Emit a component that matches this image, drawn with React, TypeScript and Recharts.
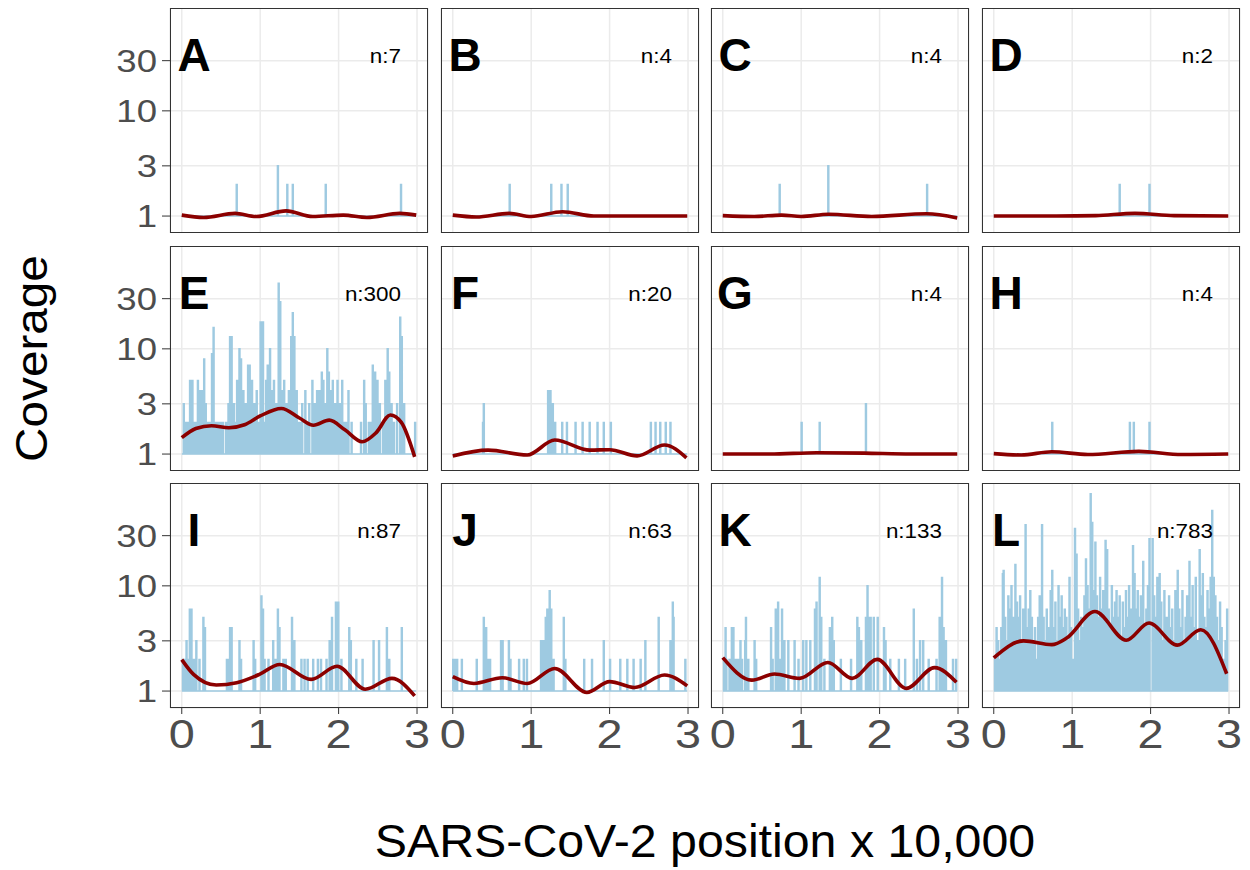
import { LineChart, Line, XAxis, YAxis, CartesianGrid } from 'recharts'

// facet labels and read counts
const panelLetters = ['A', 'B', 'C', 'D', 'E', 'F', 'G', 'H', 'I', 'J', 'K', 'L']
const readCounts = [7, 4, 4, 2, 300, 20, 4, 4, 87, 63, 133, 783]
const xTicks = [0, 1, 2, 3]
const yTicks = [1, 3, 10, 30]

// coverage spikes: [position x 10,000, coverage]
const spikesA = [[0.695, 2], [1.22, 3], [1.34, 2], [1.41, 2], [1.83, 2], [2.79, 2]]
const spikesB = [[0.72, 2], [1.25, 2], [1.38, 2], [1.46, 2]]
const spikesC = [[0.72, 2], [1.34, 3], [2.6, 2]]
const spikesD = [[1.6, 2], [1.98, 2]]
const spikesE = [
  [0.02, 3], [0.04, 2], [0.07, 2], [0.1, 5], [0.13, 5], [0.15, 2], [0.18, 2], [0.2, 5], [0.22, 4], [0.25, 4],
  [0.28, 8], [0.3, 3], [0.32, 2], [0.34, 2], [0.36, 2], [0.38, 9], [0.4, 16], [0.42, 2], [0.44, 2], [0.47, 2],
  [0.49, 2], [0.52, 2], [0.56, 2], [0.59, 3], [0.61, 13], [0.63, 13], [0.66, 3], [0.68, 2], [0.7, 5], [0.73, 10],
  [0.75, 8], [0.78, 4], [0.81, 3], [0.84, 7], [0.86, 7], [0.89, 5], [0.92, 3], [0.95, 4], [0.98, 2], [1.0, 18],
  [1.03, 18], [1.05, 2], [1.07, 5], [1.09, 7], [1.12, 10], [1.14, 4], [1.17, 5], [1.2, 3], [1.23, 42], [1.25, 28],
  [1.28, 4], [1.3, 5], [1.33, 3], [1.36, 4], [1.39, 13], [1.41, 22], [1.43, 13], [1.46, 4], [1.48, 2], [1.5, 2],
  [1.53, 3], [1.57, 4], [1.6, 2], [1.62, 3], [1.66, 5], [1.69, 3], [1.72, 4], [1.75, 4], [1.78, 6], [1.8, 5],
  [1.83, 3], [1.85, 10], [1.87, 6], [1.9, 4], [1.92, 5], [1.95, 3], [1.98, 5], [2.01, 3], [2.04, 5], [2.07, 2],
  [2.1, 2], [2.12, 4], [2.16, 2], [2.28, 2], [2.32, 5], [2.34, 3], [2.38, 2], [2.41, 2], [2.43, 7], [2.46, 6],
  [2.49, 5], [2.52, 3], [2.56, 2], [2.59, 5], [2.62, 10], [2.64, 6], [2.67, 3], [2.7, 2], [2.74, 3], [2.78, 20],
  [2.8, 13], [2.83, 3], [2.97, 2],
]
const spikesF = [
  [0.38, 2], [0.39, 3], [1.21, 4], [1.24, 4], [1.27, 3], [1.3, 2], [1.39, 2], [1.45, 2], [1.56, 2], [1.65, 2],
  [1.74, 2], [1.84, 2], [1.92, 2], [2.01, 2], [2.52, 2], [2.58, 2], [2.64, 2], [2.71, 2], [2.77, 2],
]
const spikesG = [[1.0, 2], [1.23, 2], [1.82, 3]]
const spikesH = [[0.74, 2], [1.73, 2], [1.78, 2], [1.98, 2]]
const spikesI = [
  [0.01, 2], [0.03, 2], [0.055, 3], [0.076, 2], [0.097, 6], [0.118, 6], [0.148, 2], [0.165, 2], [0.18, 3], [0.22, 2],
  [0.27, 5], [0.29, 4], [0.57, 2], [0.59, 2], [0.61, 4], [0.63, 4], [0.73, 3], [0.75, 2], [0.91, 3], [0.93, 2],
  [1.01, 8], [1.03, 6], [1.05, 2], [1.1, 2], [1.16, 3], [1.19, 2], [1.22, 6], [1.24, 4], [1.29, 2], [1.32, 2],
  [1.4, 5], [1.43, 3], [1.52, 2], [1.56, 2], [1.6, 2], [1.67, 2], [1.73, 2], [1.77, 2], [1.84, 2], [1.88, 3],
  [1.91, 5], [1.96, 7], [1.99, 7], [2.03, 2], [2.13, 4], [2.15, 3], [2.22, 2], [2.3, 2], [2.44, 3], [2.51, 3],
  [2.61, 4], [2.64, 2], [2.8, 4],
]
const spikesJ = [
  [0.0, 2], [0.02, 2], [0.05, 2], [0.11, 2], [0.3, 2], [0.39, 5], [0.42, 4], [0.45, 2], [0.47, 2], [0.61, 3],
  [0.63, 3], [0.71, 3], [0.73, 2], [0.84, 2], [0.9, 2], [0.94, 2], [1.12, 3], [1.15, 3], [1.18, 5], [1.2, 6],
  [1.23, 9], [1.25, 6], [1.28, 2], [1.41, 5], [1.43, 2], [1.67, 2], [1.77, 2], [1.92, 3], [2.0, 2], [2.13, 2],
  [2.22, 2], [2.3, 2], [2.39, 2], [2.45, 3], [2.62, 5], [2.77, 3], [2.8, 7], [2.81, 5], [2.96, 2],
]
const spikesK = [
  [0.01, 2], [0.03, 4], [0.04, 2], [0.08, 2], [0.11, 4], [0.13, 4], [0.15, 2], [0.18, 2], [0.2, 2], [0.22, 3],
  [0.24, 2], [0.28, 3], [0.29, 5], [0.32, 2], [0.4, 3], [0.42, 2], [0.61, 4], [0.63, 2], [0.67, 6], [0.7, 7],
  [0.72, 2], [0.75, 6], [0.78, 3], [0.83, 3], [0.91, 3], [0.96, 2], [1.02, 3], [1.06, 3], [1.11, 3], [1.17, 6],
  [1.19, 7], [1.23, 12], [1.25, 5], [1.29, 2], [1.36, 4], [1.39, 5], [1.41, 3], [1.5, 2], [1.63, 2], [1.71, 5],
  [1.73, 4], [1.76, 3], [1.82, 5], [1.84, 10], [1.86, 5], [1.88, 5], [1.92, 5], [1.97, 5], [2.05, 4], [2.07, 3],
  [2.13, 2], [2.24, 2], [2.32, 2], [2.43, 6], [2.47, 2], [2.51, 3], [2.55, 3], [2.62, 2], [2.72, 2], [2.76, 5],
  [2.79, 12], [2.81, 4], [2.84, 3], [2.93, 2], [2.97, 2],
]
const spikesL = [
  [0.01, 2], [0.03, 4], [0.05, 3], [0.07, 2], [0.09, 4], [0.11, 13], [0.12, 14], [0.14, 5], [0.16, 3], [0.18, 8],
  [0.2, 6], [0.22, 10], [0.24, 5], [0.26, 3], [0.27, 16], [0.29, 7], [0.31, 5], [0.33, 8], [0.35, 3], [0.37, 6],
  [0.4, 38], [0.42, 4], [0.44, 6], [0.46, 9], [0.48, 5], [0.5, 3], [0.52, 4], [0.54, 2], [0.56, 5], [0.58, 8],
  [0.61, 38], [0.63, 5], [0.65, 3], [0.67, 6], [0.69, 4], [0.72, 9], [0.74, 14], [0.76, 4], [0.78, 7], [0.8, 3],
  [0.82, 10], [0.84, 5], [0.86, 8], [0.88, 4], [0.9, 6], [0.92, 5], [0.94, 3], [0.96, 12], [0.98, 4], [1.0, 2],
  [1.03, 35], [1.05, 20], [1.07, 6], [1.09, 3], [1.11, 5], [1.13, 4], [1.15, 8], [1.17, 18], [1.19, 10], [1.21, 6],
  [1.23, 75], [1.25, 40], [1.27, 9], [1.29, 26], [1.31, 8], [1.33, 5], [1.35, 12], [1.37, 6], [1.39, 9], [1.42, 27],
  [1.44, 22], [1.46, 6], [1.48, 4], [1.5, 10], [1.52, 5], [1.54, 7], [1.56, 9], [1.58, 5], [1.6, 8], [1.62, 3],
  [1.64, 7], [1.66, 4], [1.68, 9], [1.7, 5], [1.72, 10], [1.74, 6], [1.77, 24], [1.79, 13], [1.81, 6], [1.83, 9],
  [1.85, 5], [1.87, 8], [1.9, 17], [1.92, 4], [1.94, 6], [1.96, 10], [1.98, 28], [2.02, 28], [2.04, 8], [2.06, 5],
  [2.08, 12], [2.1, 4], [2.11, 13], [2.13, 7], [2.15, 3], [2.17, 9], [2.19, 5], [2.21, 5], [2.23, 8], [2.25, 4],
  [2.27, 6], [2.29, 3], [2.31, 9], [2.34, 14], [2.36, 6], [2.38, 4], [2.4, 9], [2.42, 3], [2.44, 5], [2.46, 8],
  [2.49, 17], [2.51, 5], [2.53, 10], [2.55, 4], [2.57, 12], [2.59, 3], [2.62, 22], [2.64, 8], [2.66, 13], [2.68, 5],
  [2.7, 4], [2.72, 9], [2.74, 6], [2.76, 12], [2.78, 52], [2.8, 12], [2.82, 8], [2.84, 5], [2.86, 3], [2.88, 7],
  [2.9, 4], [2.92, 2], [2.95, 3], [2.97, 6],
]

// smoothed trend per panel: [position, coverage]
const smoothA = [[0, 1.02], [0.28, 0.97], [0.68, 1.06], [0.95, 0.99], [1.33, 1.12], [1.67, 0.99], [2.06, 1.02], [2.36, 0.97], [2.78, 1.06], [2.99, 1.02]]
const smoothB = [[0, 1.02], [0.3, 0.98], [0.72, 1.06], [1.0, 0.99], [1.4, 1.1], [1.8, 1.0], [2.99, 1.0]]
const smoothC = [[0, 1.01], [0.4, 0.99], [0.75, 1.02], [1.0, 0.99], [1.35, 1.04], [1.9, 0.99], [2.6, 1.05], [2.99, 0.96]]
const smoothD = [[0, 1.0], [0.8, 1.0], [1.3, 1.01], [1.8, 1.06], [2.3, 1.01], [2.99, 1.0]]
const smoothE = [[0, 1.43], [0.18, 1.75], [0.38, 1.86], [0.6, 1.78], [0.8, 1.9], [1.0, 2.3], [1.27, 2.71], [1.5, 2.2], [1.68, 1.88], [1.88, 2.1], [2.08, 1.7], [2.3, 1.31], [2.48, 1.6], [2.66, 2.35], [2.8, 2.0], [2.97, 0.94]]
const smoothF = [[0, 0.96], [0.45, 1.09], [0.95, 0.98], [1.3, 1.36], [1.75, 1.09], [2.0, 1.1], [2.35, 0.96], [2.7, 1.22], [2.98, 0.92]]
const smoothG = [[0, 1.0], [0.6, 1.0], [1.2, 1.03], [1.8, 1.02], [2.4, 1.0], [2.99, 1.0]]
const smoothH = [[0, 1.01], [0.35, 0.98], [0.74, 1.05], [1.2, 0.99], [1.85, 1.06], [2.4, 0.99], [2.99, 1.0]]
const smoothI = [[0, 1.99], [0.15, 1.44], [0.44, 1.14], [0.7, 1.2], [0.99, 1.44], [1.25, 1.79], [1.65, 1.29], [1.98, 1.72], [2.34, 1.04], [2.68, 1.32], [2.97, 0.9]]
const smoothJ = [[0, 1.37], [0.27, 1.18], [0.63, 1.34], [0.95, 1.18], [1.3, 1.64], [1.71, 0.97], [2.0, 1.23], [2.32, 1.08], [2.7, 1.42], [2.99, 1.12]]
const smoothK = [[0, 2.08], [0.37, 1.27], [0.66, 1.45], [0.98, 1.32], [1.34, 1.87], [1.65, 1.32], [1.97, 2.0], [2.34, 1.06], [2.7, 1.67], [2.98, 1.21]]
const smoothL = [[0, 2.07], [0.38, 3.0], [0.74, 2.76], [0.93, 3.19], [1.29, 5.7], [1.69, 3.04], [1.98, 4.43], [2.34, 2.73], [2.64, 3.83], [2.97, 1.46]]

const spikeSets = [spikesA, spikesB, spikesC, spikesD, spikesE, spikesF, spikesG, spikesH, spikesI, spikesJ, spikesK, spikesL]
const smoothSets = [smoothA, smoothB, smoothC, smoothD, smoothE, smoothF, smoothG, smoothH, smoothI, smoothJ, smoothK, smoothL]

const colLeft = [170, 441, 711, 982]
const rowTop = [8, 246, 483]
const panelW = 258
const panelH = 225
const yAxisW = 70
const xAxisH = 60
const sidePad = 20
const font = '"Liberation Sans", Arial, Helvetica, sans-serif'
const spikeWidth = 0.012

function buildTrace(spikes: number[][]) {
  const pts = [{ x: 0, y: 1 }]
  spikes.forEach(([x, v]) => {
    pts.push({ x, y: 1 }, { x, y: v }, { x: x + spikeWidth, y: v }, { x: x + spikeWidth, y: 1 })
  })
  pts.push({ x: 2.99, y: 1 })
  return pts
}

const stretch = (x: number, y: number, s: number) => `translate(${x} ${y}) scale(${s} 1) translate(${-x} ${-y})`

const NoTick = () => <g />

const YTick = (props: any) => {
  const { x, y, payload } = props
  return (
    <text x={x} y={y} dy="0.35em" textAnchor="end" fontSize={31} fill="#4d4d4d" fontFamily={font} transform={stretch(x, y, 1.18)}>
      {payload.value}
    </text>
  )
}

const XTick = (props: any) => {
  const { x, y, payload } = props
  return (
    <text x={x} y={y} dy="0.7em" textAnchor="middle" fontSize={40} fill="#4d4d4d" fontFamily={font} transform={stretch(x, y, 1.17)}>
      {payload.value}
    </text>
  )
}

function Panel({ i }: { i: number }) {
  const col = i % 4
  const row = Math.floor(i / 4)
  const showY = col === 0
  const showX = row === 2
  const yW = showY ? yAxisW : 0
  const xH = showX ? xAxisH : 0
  const trace = buildTrace(spikeSets[i])
  const smooth = smoothSets[i].map(([x, y]) => ({ x, y }))

  return (
    <div style={{ position: 'absolute', left: colLeft[col] - yW - sidePad, top: rowTop[row] }}>
      <LineChart width={panelW + yW + 2 * sidePad} height={panelH + xH} margin={{ top: 0, right: sidePad, bottom: 0, left: sidePad }}>
        <CartesianGrid stroke="#ebebeb" strokeWidth={1.5} />
        <XAxis
          dataKey="x"
          type="number"
          domain={[-0.15, 3.14]}
          ticks={xTicks}
          allowDataOverflow
          height={xH}
          axisLine={false}
          tickLine={showX ? { stroke: '#333333' } : false}
          tickSize={showX ? 6 : 0}
          tickMargin={6}
          tick={showX ? XTick : NoTick}
        />
        <YAxis
          type="number"
          scale="log"
          domain={[0.69, 95]}
          ticks={yTicks}
          allowDataOverflow
          width={yW}
          axisLine={false}
          tickLine={showY ? { stroke: '#333333' } : false}
          tickSize={showY ? 8 : 0}
          tickMargin={5}
          tick={showY ? YTick : NoTick}
        />
        <Line data={trace} dataKey="y" type="linear" stroke="#9ecae1" strokeWidth={1.5} dot={false} activeDot={false} isAnimationActive={false} />
        <Line data={smooth} dataKey="y" type="monotone" stroke="#8b0000" strokeWidth={3.6} dot={false} activeDot={false} isAnimationActive={false} />
      </LineChart>
      <div
        style={{
          position: 'absolute',
          left: yW + sidePad,
          top: 0,
          width: panelW,
          height: panelH,
          border: '1px solid #333333',
          boxSizing: 'border-box',
          pointerEvents: 'none',
        }}
      />
    </div>
  )
}

export default function App() {
  return (
    <div style={{ position: 'absolute', left: 0, top: 0, width: 1250, height: 870, background: '#fff', fontFamily: font }}>
      {panelLetters.map((_, i) => (
        <Panel key={i} i={i} />
      ))}
      <svg width={1250} height={870} style={{ position: 'absolute', left: 0, top: 0, pointerEvents: 'none' }}>
        {panelLetters.map((letter, i) => {
          const col = i % 4
          const row = Math.floor(i / 4)
          const lx = colLeft[col] + 24
          const ly = rowTop[row] + 62.5
          const nx = colLeft[col] + panelW - 27
          const ny = rowTop[row] + 55
          return (
            <g key={letter}>
              <text x={lx} y={ly} textAnchor="middle" fontSize={46} fontWeight="bold" fill="#000" fontFamily={font}>
                {letter}
              </text>
              <text x={nx} y={ny} textAnchor="end" fontSize={19.5} fill="#000" fontFamily={font} transform={stretch(nx, ny, 1.15)}>
                {`n:${readCounts[i]}`}
              </text>
            </g>
          )
        })}
        <text x={705} y={857} textAnchor="middle" fontSize={46} fill="#000" fontFamily={font} transform={stretch(705, 857, 1.05)}>
          SARS-CoV-2 position x 10,000
        </text>
        <text textAnchor="middle" fontSize={45} fill="#000" fontFamily={font} transform="translate(47 358.5) rotate(-90) scale(1.06 1)">
          Coverage
        </text>
      </svg>
    </div>
  )
}
